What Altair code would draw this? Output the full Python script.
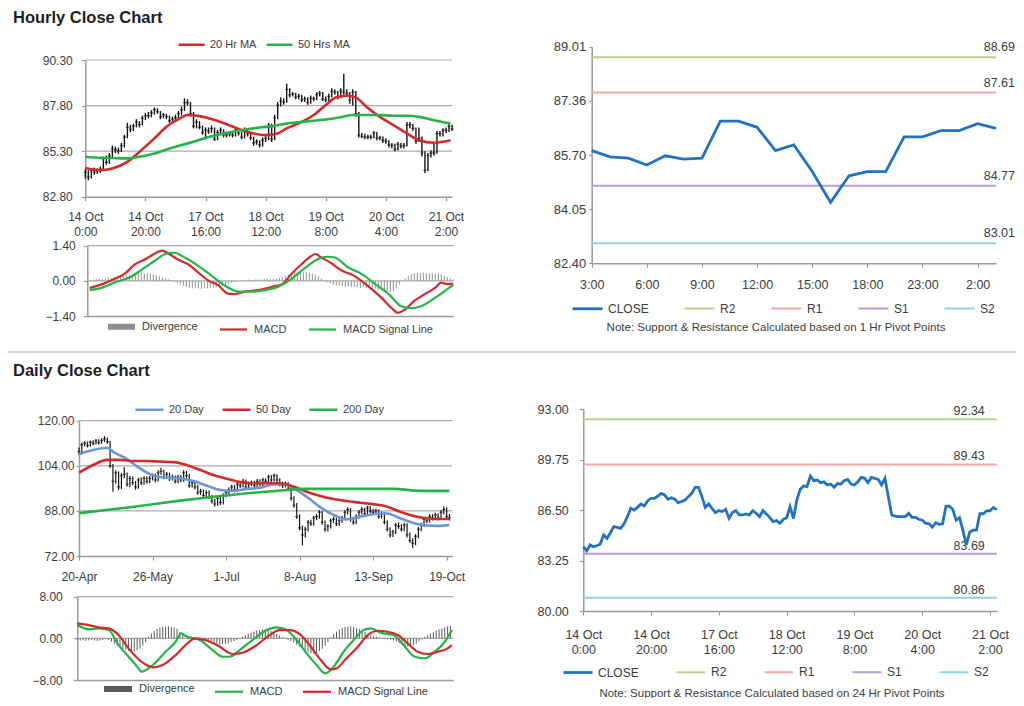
import altair as alt
import pandas as pd

W, H = 1008, 690
FONT = "Liberation Sans"
TXT = "#3c3c3c"
AXC = "#9a9a9a"
GRIDC = "#ababab"
RED = "#d42a2a"
GREEN = "#27b34a"
BLUE_MA = "#6a98d4"
CLOSE_C = "#2172c0"
R2_C = "#b8d08e"
R1_C = "#f0a8a8"
S1_C = "#b39fd6"
S2_C = "#8fd2e6"
BAR_C = "#141414"

# ---------------- hourly data (bar index 0..122) ----------------
hour_close = [84.14, 83.88, 84.25, 84.14, 84.20, 84.31, 84.89, 84.68, 85.04, 85.43,
              85.38, 85.32, 85.60, 86.07, 86.61, 86.50, 86.67, 86.89, 86.76, 87.10,
              87.25, 87.25, 87.40, 87.57, 87.47, 87.19, 87.29, 87.19, 86.97, 87.05,
              87.14, 87.36, 87.57, 87.96, 87.96, 87.36, 86.67, 86.89, 86.61, 86.33,
              86.46, 86.40, 86.54, 85.96, 86.33, 86.46, 86.18, 86.18, 86.25, 86.18,
              86.46, 86.29, 86.07, 86.46, 86.25, 86.03, 85.75, 85.82, 85.64, 85.90,
              86.00, 86.72, 85.96, 87.14, 87.83, 88.05, 88.00, 88.69, 88.39, 88.43,
              88.26, 88.31, 88.11, 88.17, 87.96, 88.20, 88.17, 88.39, 88.47, 88.17,
              88.11, 88.31, 88.60, 88.54, 88.26, 88.60, 88.54, 88.47, 88.11, 88.54,
              87.36, 86.18, 86.11, 86.07, 86.07, 86.07, 86.29, 86.03, 86.03, 85.90,
              85.84, 85.65, 85.61, 85.40, 85.68, 85.58, 85.61, 86.74, 86.74, 86.55,
              85.84, 86.01, 85.20, 84.26, 85.07, 85.20, 85.20, 86.26, 86.26, 86.45,
              86.45, 86.66, 86.52]
hour_high = [84.30, 84.25, 84.35, 84.40, 84.35, 84.45, 85.00, 85.05, 85.20, 85.60,
             85.55, 85.50, 85.75, 86.20, 86.85, 86.75, 86.80, 87.05, 86.95, 87.25,
             87.40, 87.45, 87.55, 87.70, 87.65, 87.50, 87.40, 87.35, 87.25, 87.20,
             87.30, 87.50, 87.75, 88.20, 88.15, 88.00, 87.45, 87.05, 86.95, 86.70,
             86.60, 86.60, 86.70, 86.60, 86.45, 86.60, 86.50, 86.35, 86.40, 86.35,
             86.60, 86.55, 86.35, 86.60, 86.50, 86.30, 86.10, 85.95, 85.90, 86.05,
             86.15, 86.85, 86.80, 87.30, 88.00, 88.25, 88.20, 89.00, 88.75, 88.55,
             88.50, 88.45, 88.40, 88.30, 88.25, 88.35, 88.30, 88.55, 88.60, 88.55,
             88.30, 88.45, 88.75, 88.70, 88.60, 88.75, 89.55, 88.70, 88.55, 88.70,
             88.60, 87.45, 86.30, 86.25, 86.20, 86.20, 86.40, 86.35, 86.15, 86.10,
             86.00, 85.90, 85.75, 85.70, 85.80, 85.75, 85.75, 86.90, 86.90, 86.80,
             86.60, 86.60, 86.10, 85.30, 85.20, 85.35, 85.80, 86.40, 86.40, 86.55,
             86.60, 86.80, 86.75]
hour_low = [83.80, 83.70, 83.80, 84.00, 84.05, 84.10, 84.25, 84.55, 84.60, 84.95,
            85.20, 85.15, 85.25, 85.50, 86.00, 86.35, 86.40, 86.60, 86.60, 86.70,
            87.00, 87.10, 87.15, 87.30, 87.35, 87.05, 87.10, 87.05, 86.85, 86.90,
            86.95, 87.05, 87.25, 87.50, 87.80, 87.20, 86.55, 86.55, 86.50, 86.20,
            85.95, 86.25, 86.30, 85.85, 85.90, 86.20, 86.05, 86.05, 86.10, 86.05,
            86.10, 86.15, 85.95, 86.00, 86.10, 85.90, 85.60, 85.65, 85.50, 85.55,
            85.80, 85.90, 85.80, 85.90, 87.05, 87.75, 87.85, 87.95, 88.25, 88.30,
            88.15, 88.15, 88.00, 88.00, 87.85, 87.90, 88.05, 88.10, 88.30, 88.05,
            88.00, 88.05, 88.25, 88.40, 88.15, 88.20, 88.40, 88.30, 87.90, 87.80,
            87.20, 86.05, 86.00, 85.95, 85.95, 85.95, 86.00, 85.90, 85.90, 85.75,
            85.70, 85.50, 85.45, 85.30, 85.35, 85.45, 85.45, 85.55, 86.55, 86.40,
            85.70, 85.80, 85.00, 84.10, 84.20, 84.95, 85.05, 85.15, 86.10, 86.10,
            86.30, 86.35, 86.40]
hour_tick_pos = [0, 20, 40, 60, 80, 100, 120]
hour_tick_day = ["14 Oct", "14 Oct", "17 Oct", "18 Oct", "19 Oct", "20 Oct", "21 Oct"]
hour_tick_time = ["0:00", "20:00", "16:00", "12:00", "8:00", "4:00", "2:00"]

ma20_x = [0, 5, 9, 14, 18, 23, 27, 31.5, 34, 38, 42.5, 47, 51.5, 56, 60, 64, 67, 71.5, 76, 80,
          83.5, 87, 90, 93.5, 98, 102.5, 107, 111, 116, 119, 121.5]
ma20_v = [84.38, 84.26, 84.35, 84.71, 85.26, 86.00, 86.64, 87.10, 87.28, 87.22, 87.04, 86.78,
          86.49, 86.27, 86.18, 86.27, 86.55, 86.86, 87.28, 87.83, 88.25, 88.34, 88.25, 87.73,
          87.18, 86.73, 86.27, 85.90, 85.76, 85.81, 85.90]
ma50_x = [0, 5, 9, 14, 18, 23, 27, 31.5, 36, 40.5, 45, 49, 53.5, 58, 62.5, 67, 71.5, 76, 80,
          84.5, 89, 93.5, 98, 102.5, 107, 111, 116, 120, 121.5]
ma50_v = [84.99, 84.93, 84.92, 84.90, 84.99, 85.17, 85.39, 85.61, 85.81, 86.05, 86.23, 86.36,
          86.49, 86.60, 86.67, 86.82, 86.89, 86.97, 87.04, 87.15, 87.28, 87.28, 87.28, 87.24,
          87.24, 87.18, 87.00, 86.86, 86.82]

hmacd_x = [0.8, 5, 9, 12.5, 16, 19.5, 22.5, 25, 27, 30.5, 33.5, 37, 40.5, 43.5, 47, 49, 52.5,
           57, 61.5, 65, 68, 71.5, 74, 76, 78, 81.5, 84.5, 89, 93.5, 98, 101.5, 103.5, 106,
           109, 112.5, 116, 118, 120, 122]
hmacd_v = [-0.29, -0.13, 0.07, 0.29, 0.67, 0.87, 1.09, 1.20, 1.09, 0.83, 0.67, 0.33, 0.0,
           -0.16, -0.51, -0.53, -0.43, -0.37, -0.24, -0.13, 0.27, 0.67, 0.93, 1.07, 0.93,
           0.69, 0.43, 0.20, -0.20, -0.67, -1.09, -1.27, -1.13, -0.80, -0.53, -0.27, -0.07,
           -0.13, -0.11]
hsig_x = [0.8, 5, 9, 14, 18, 22.5, 26, 29, 32.5, 37, 41.5, 46, 50.5, 55, 59, 63.5, 68, 72.5,
          77, 80, 82.5, 87, 91.5, 96, 100.5, 104.5, 107.5, 111.5, 116, 120, 122]
hsig_v = [-0.37, -0.27, -0.07, 0.13, 0.43, 0.80, 1.07, 1.12, 0.93, 0.60, 0.20, -0.20, -0.43,
          -0.43, -0.37, -0.24, 0.07, 0.51, 0.87, 0.96, 0.93, 0.53, 0.27, -0.13, -0.53, -1.0,
          -1.09, -1.0, -0.67, -0.33, -0.16]
hour_div = [0.02, 0.03, 0.05, 0.06, 0.07, 0.08, 0.10, 0.12, 0.10, 0.14,
            0.16, 0.18, 0.20, 0.22, 0.25, 0.28, 0.24, 0.30, 0.33, 0.30,
            0.32, 0.28, 0.25, 0.22, 0.18, 0.14, 0.10, 0.06, 0.02, -0.05,
            -0.10, -0.15, -0.20, -0.25, -0.28, -0.30, -0.28, -0.30, -0.32, -0.30,
            -0.30, -0.28, -0.26, -0.25, -0.22, -0.20, -0.16, -0.12, -0.08, -0.05,
            -0.02, 0.00, 0.02, 0.03, 0.04, 0.03, 0.05, 0.06, 0.05, 0.07,
            0.08, 0.06, 0.08, 0.10, 0.12, 0.16, 0.20, 0.25, 0.28, 0.30,
            0.32, 0.35, 0.34, 0.36, 0.33, 0.30, 0.25, 0.18, 0.10, 0.02,
            -0.05, -0.10, -0.15, -0.18, -0.20, -0.22, -0.25, -0.22, -0.25, -0.24,
            -0.25, -0.28, -0.25, -0.28, -0.30, -0.32, -0.30, -0.35, -0.38, -0.40,
            -0.42, -0.45, -0.40, -0.30, -0.15, -0.02, 0.10, 0.20, 0.26, 0.30,
            0.32, 0.30, 0.32, 0.30, 0.30, 0.30, 0.28, 0.30, 0.26, 0.20,
            0.15, 0.10, 0.06]

# 24 hour pivot chart (last 23 hourly closes)
h24_start = 100
h24_tick_pos = [0, 3, 6, 9, 12, 15, 18, 21]
h24_tick_lab = ["3:00", "6:00", "9:00", "12:00", "15:00", "18:00", "23:00", "2:00"]
pivot_names = ["R2", "R1", "S1", "S2"]
pivot_1h = [88.69, 87.61, 84.77, 83.01]
pivot_24h = [92.34, 89.43, 83.69, 80.86]

# ---------------- daily data (day index 0..131) ----------------
daily_close = [109.0, 111.5, 112.0, 111.2, 112.4, 112.0, 112.8, 112.2, 113.0, 113.5,
               112.5, 104.0, 98.5, 101.5, 96.5, 100.5, 101.0, 97.5, 99.5, 98.0,
               96.5, 99.0, 98.0, 99.5, 98.5, 99.5, 100.5, 99.0, 101.5, 102.0,
               100.0, 101.0, 99.5, 100.0, 98.5, 100.0, 99.0, 101.5, 100.5, 97.0,
               98.0, 96.5, 94.5, 95.0, 93.5, 94.5, 93.0, 91.5, 90.5, 92.5,
               91.0, 93.5, 94.5, 95.5, 96.5, 95.5, 97.5, 97.0, 98.5, 96.5,
               97.5, 98.0, 97.0, 98.5, 97.5, 99.0, 98.5, 100.0, 99.0, 100.5,
               99.0, 97.5, 97.0, 97.5, 96.0, 92.5, 90.0, 86.0, 82.0, 79.5,
               81.5, 84.0, 83.5, 85.5, 86.0, 87.5, 84.0, 81.5, 82.5, 84.5,
               85.0, 83.5, 84.5, 85.5, 87.5, 88.5, 85.0, 84.0, 86.0, 87.5,
               88.5, 87.0, 89.0, 88.0, 87.5, 88.0, 86.0, 87.0, 84.0, 81.5,
               79.5, 80.5, 83.0, 82.5, 81.5, 83.0, 79.5, 77.5, 76.5, 79.0,
               81.5, 83.0, 85.0, 84.5, 86.0, 85.5, 86.5, 85.5, 87.5, 88.5,
               86.0, 85.5]
daily_high = [110.5, 112.3, 112.8, 112.6, 113.0, 113.1, 113.5, 113.4, 113.8, 114.5,
              114.0, 112.8, 104.6, 102.4, 102.0, 101.4, 103.5, 101.6, 100.4, 100.2,
              98.6, 99.8, 99.9, 100.3, 100.2, 100.4, 101.3, 101.2, 102.4, 103.3,
              102.6, 101.8, 101.6, 100.9, 100.6, 100.8, 100.7, 102.4, 102.2, 101.2,
              98.9, 98.6, 97.3, 95.9, 95.6, 95.3, 95.2, 93.6, 92.2, 93.4,
              93.2, 94.3, 95.3, 96.4, 97.3, 97.2, 98.4, 98.3, 99.4, 99.1,
              98.3, 98.8, 98.7, 99.3, 99.2, 99.8, 99.6, 100.8, 100.7, 101.3,
              101.0, 99.6, 98.3, 98.4, 98.2, 96.6, 93.2, 90.8, 86.8, 82.8,
              82.4, 84.8, 84.9, 86.3, 86.9, 88.3, 88.0, 84.6, 83.3, 85.3,
              85.9, 85.6, 85.4, 86.3, 88.3, 89.3, 89.0, 85.8, 86.8, 88.3,
              89.4, 89.1, 89.8, 89.7, 88.8, 88.8, 88.6, 87.8, 87.6, 84.7,
              82.2, 81.3, 83.8, 83.9, 83.3, 83.8, 83.6, 80.3, 78.3, 79.8,
              82.3, 83.8, 85.8, 85.7, 86.8, 86.8, 87.3, 87.2, 88.3, 89.6,
              89.2, 86.9]
daily_low = [107.8, 108.6, 110.9, 110.5, 110.8, 111.3, 111.6, 111.5, 111.8, 112.4,
             111.8, 103.2, 94.8, 97.6, 95.4, 95.8, 99.6, 96.6, 96.5, 97.1,
             95.5, 95.9, 97.2, 97.3, 97.6, 97.8, 98.8, 98.2, 98.4, 100.8,
             99.2, 99.3, 98.6, 98.8, 97.7, 97.8, 98.2, 98.3, 99.6, 96.2,
             96.3, 95.6, 93.7, 93.6, 92.6, 92.8, 92.2, 90.6, 89.6, 89.8,
             90.1, 90.3, 92.8, 93.8, 94.8, 94.6, 94.8, 96.1, 96.3, 95.6,
             95.8, 96.8, 96.2, 96.3, 96.7, 96.8, 97.7, 97.8, 98.2, 98.3,
             98.2, 96.7, 96.1, 96.3, 95.1, 91.6, 89.1, 85.1, 81.1, 75.8,
             78.6, 80.7, 82.6, 82.7, 84.7, 85.2, 83.1, 80.6, 80.7, 81.8,
             83.7, 82.6, 82.7, 83.8, 84.8, 86.7, 84.1, 83.1, 83.3, 85.2,
             86.8, 86.2, 86.3, 87.2, 86.6, 86.8, 85.2, 85.3, 83.2, 80.6,
             78.6, 78.7, 79.8, 81.6, 80.7, 80.8, 78.6, 76.6, 74.8, 75.8,
             78.3, 80.8, 82.3, 83.6, 83.8, 84.6, 84.8, 84.6, 84.9, 86.7,
             85.1, 84.6]
daily_tick_pos = [0, 26, 52, 78, 104, 130]
daily_tick_lab = ["20-Apr", "26-May", "1-Jul", "8-Aug", "13-Sep", "19-Oct"]

d20_x = [0, 5, 10, 12, 17, 21.5, 26.5, 31, 35.5, 40.5, 45, 50, 54.5, 59.5, 64, 68.5, 72.5,
         76, 80.5, 85, 90, 94.5, 99.5, 104, 109, 113.5, 118, 123, 127.5, 131]
d20_v = [108.1, 109.6, 110.4, 109.0, 106.4, 103.1, 100.5, 99.8, 99.6, 98.6, 97.0, 95.4, 95.1,
         95.8, 96.2, 97.4, 97.5, 96.0, 93.0, 89.5, 86.6, 85.0, 86.0, 86.8, 87.1, 85.4, 83.8,
         82.8, 82.7, 83.0]
d50_x = [0, 5, 10, 14.5, 19.5, 24, 28.5, 33.5, 38, 43, 47.5, 52.5, 57, 61.5, 66.5, 71, 76,
         80.5, 85, 90, 94.5, 99.5, 104, 109, 113.5, 118, 123, 127.5, 131]
d50_v = [101.6, 104.3, 106.1, 106.1, 105.7, 105.7, 105.5, 105.3, 104.3, 102.5, 100.7, 99.3,
         98.2, 97.8, 97.8, 97.8, 96.6, 94.8, 93.4, 92.2, 91.5, 90.9, 90.4, 89.5, 87.7, 86.3,
         85.4, 85.1, 85.1]
d200_x = [0, 19.5, 38, 57, 73.5, 78.5, 90, 102, 111, 121, 131]
d200_v = [87.2, 89.5, 91.9, 94.0, 95.4, 95.8, 95.8, 95.8, 95.8, 95.1, 95.1]

dmacd_x = [0, 4, 7.5, 11, 14.5, 18, 21.5, 22.5, 26.5, 31, 34.5, 36.5, 38, 43, 47.5, 51, 53.5,
           57, 61.5, 66.5, 70, 73.5, 77, 80.5, 84, 87, 90, 93.5, 97, 100.5, 103, 106.5, 111,
           114.5, 118.5, 122, 125.5, 129, 131.5]
dmacd_v = [2.55, 1.73, 1.92, 1.59, -1.29, -3.53, -5.76, -6.41, -5.12, -2.57, -0.65, 0.96,
           0.44, -0.33, -2.25, -3.53, -3.53, -2.25, -0.33, 1.59, 2.11, 1.59, -0.33, -2.88,
           -5.12, -6.72, -5.45, -2.57, -0.33, 1.59, 1.92, 1.07, 0.63, -1.29, -3.53, -3.84,
           -2.57, -0.65, 1.59]
dsig_x = [0, 4, 7.5, 11, 14.5, 18, 22.5, 26.5, 30, 34.5, 38, 41.5, 45, 50, 54.5, 58, 63,
          67.5, 71, 74.5, 78.5, 82, 85.5, 89, 91, 94.5, 98.5, 102, 105.5, 109, 112.5, 116,
          119.5, 123, 126.5, 130, 131.5]
dsig_v = [2.88, 2.55, 2.11, 1.92, 0.63, -1.92, -4.49, -5.57, -5.12, -3.21, -1.29, 0.0,
          -0.33, -1.61, -3.01, -2.76, -1.29, 0.63, 1.59, 1.59, 0.63, -1.61, -4.17, -5.95,
          -5.76, -3.84, -1.61, 0.63, 1.46, 1.27, 0.63, -0.96, -2.57, -3.01, -2.57, -1.92,
          -1.29]
daily_div = [-0.3, -0.4, -0.4, -0.5, -0.4, -0.3, -0.4, -0.5, -0.4, -0.3, -0.2, -0.3,
             -0.6, -1.0, -1.4, -1.7, -2.0, -2.2, -2.4, -2.6, -2.5, -2.3, -2.0, -1.4, -0.8,
             0.3, 0.9, 1.4, 1.8, 2.1, 2.2, 2.2, 2.3, 2.2, 2.1, 1.8, 1.2, 0.6,
             -0.1, -0.2, -0.3, -0.2, -0.3, -0.4, -0.5, -0.6,
             -0.8, -1.0, -1.1, -1.2, -1.2, -1.1, -1.0, -0.9, -0.7, -0.5, -0.3, -0.1,
             0.3, 0.6, 0.9, 1.1, 1.3, 1.5, 1.6, 1.7, 1.7, 1.6, 1.4, 1.1, 0.8, 0.5, 0.2,
             -0.1, -0.3, -0.5, -0.8, -1.2, -1.6, -2.0,
             -2.4, -2.7, -2.9, -3.0, -2.8, -2.5, -2.0, -1.4, -0.7,
             0.2, 0.8, 1.3, 1.7, 2.0, 2.2, 2.3, 2.3, 2.2, 2.0, 1.8, 1.5, 1.2, 0.9, 0.6,
             0.4, 0.3, 0.2, 0.1, -0.1, -0.2, -0.3, -0.4,
             -0.6, -0.9, -1.2, -1.4, -1.5, -1.5, -1.3, -1.0, -0.6,
             -0.2, 0.3, 0.6, 0.9, 1.2, 1.5, 1.7, 1.9, 2.1, 2.3, 2.4]


# ---------------- helpers ----------------
def label_expr(pos, labels):
    expr = "''"
    for p, lab in reversed(list(zip(pos, labels))):
        if isinstance(lab, (list, tuple)):
            lit = "[" + ", ".join("'" + s + "'" for s in lab) + "]"
        else:
            lit = "'" + lab + "'"
        expr = "datum.value == %s ? %s : (%s)" % (p, lit, expr)
    return expr


def x_axis(bottom, pos=None, labels=None, tick=4, pad=9, size=12):
    common = dict(orient="bottom", offset=bottom - H, title=None, grid=False,
                  domainColor=AXC, domainWidth=1.5)
    if pos is None:
        return alt.Axis(ticks=False, labels=False, **common)
    return alt.Axis(values=pos, labelExpr=label_expr(pos, labels), tickColor=AXC,
                    tickSize=tick, tickWidth=1.2, labelPadding=pad, labelFont=FONT,
                    labelFontSize=size, labelColor=TXT, labelFlush=False,
                    labelOverlap=False, labelLineHeight=15, **common)


def y_axis(left, pos, tick, pad, size=12):
    return alt.Axis(orient="left", offset=-left, values=pos, format=".2f", title=None,
                    grid=False, domainColor=AXC, domainWidth=1.5, tickColor=AXC,
                    tickSize=tick, tickWidth=1.2, labelPadding=pad, labelFont=FONT,
                    labelFontSize=size, labelColor=TXT, labelOverlap=False,
                    labelFlush=False)


def legend(x, y, n, sym, colpad, size=11, sw=2.5):
    return alt.Legend(title=None, orient="none", legendX=x, legendY=y,
                      direction="horizontal", columns=n, symbolType="stroke",
                      symbolSize=sym * sym, symbolStrokeWidth=sw, labelFont=FONT,
                      labelFontSize=size, labelColor=TXT, columnPadding=colpad,
                      labelOffset=4, padding=0)


def lin(domain, rng):
    return alt.Scale(domain=domain, range=rng, nice=False, zero=False)


def long_df(parts):
    rows = []
    for name, xs, vs in parts:
        for a, b in zip(xs, vs):
            rows.append({"s": name, "x": a, "v": b})
    return pd.DataFrame(rows)


class Panel:
    def __init__(self, xs, ys, ax, ay):
        self.xs, self.ys, self.ax, self.ay = xs, ys, ax, ay

    def X(self, f):
        return alt.X(f, scale=self.xs, axis=self.ax)

    def Y(self, f):
        return alt.Y(f, scale=self.ys, axis=self.ay)

    def XD(self, v):
        return alt.XDatum(v, type="quantitative", scale=self.xs, axis=self.ax)

    def grid(self, values, x0, x1):
        return alt.Chart(pd.DataFrame({"v": values})).mark_rule(
            color=GRIDC, strokeWidth=1.2).encode(
            x=self.XD(x0), x2=alt.X2Datum(x1), y=self.Y("v:Q"))


def bars_layers(P, hi, lo, cl, sw):
    dfb = pd.DataFrame([{"i": i, "lo": a, "hi": b} for i, (a, b) in enumerate(zip(lo, hi))])
    dfc = pd.DataFrame({"i": list(range(len(cl))), "c": cl})
    r = alt.Chart(dfb).mark_rule(color=BAR_C, strokeWidth=sw).encode(
        x=P.X("i:Q"), y=P.Y("lo:Q"), y2="hi:Q")
    t = alt.Chart(dfc).mark_tick(color=BAR_C, size=3, thickness=1.2, orient="horizontal").encode(
        x=P.X("i:Q"), y=P.Y("c:Q"))
    return [r, t]


def macd_panel(P, div, parts, x1, gridv, colors, leg):
    dom = ["Divergence", "MACD", "MACD Signal Line"]
    cs = alt.Scale(domain=dom, range=colors)
    sws = alt.Scale(type="ordinal", domain=dom, range=[6, 2.2, 2.2])
    dfd = pd.DataFrame([{"i": i, "d": d, "s": "Divergence"} for i, d in enumerate(div)])
    rules = alt.Chart(dfd).mark_rule(strokeWidth=1).encode(
        x=P.X("i:Q"), y=P.Y("d:Q"), y2=alt.Y2Datum(0),
        color=alt.Color("s:N", scale=cs, legend=leg))
    lines = alt.Chart(long_df(parts)).mark_line(interpolate="monotone").encode(
        x=P.X("x:Q"), y=P.Y("v:Q"),
        color=alt.Color("s:N", scale=cs, legend=leg),
        strokeWidth=alt.StrokeWidth("s:N", scale=sws, legend=leg))
    return alt.layer(P.grid(gridv, 0, x1), rules, lines)


def pivot_panel(P, closes, pivots, xmax, leg, ldx, ldy):
    dom = ["CLOSE"] + pivot_names
    cs = alt.Scale(domain=dom, range=[CLOSE_C, R2_C, R1_C, S1_C, S2_C])
    sws = alt.Scale(type="ordinal", domain=dom, range=[2.8, 2, 2, 2, 2])
    dfp = pd.DataFrame({"s": pivot_names, "v": pivots, "lab": ["%.2f" % v for v in pivots]})
    dfc = pd.DataFrame({"i": list(range(len(closes))), "v": closes, "s": ["CLOSE"] * len(closes)})
    prules = alt.Chart(dfp).mark_rule().encode(
        x=P.XD(0), x2=alt.X2Datum(xmax), y=P.Y("v:Q"),
        color=alt.Color("s:N", scale=cs, legend=leg),
        strokeWidth=alt.StrokeWidth("s:N", scale=sws, legend=leg))
    ptext = alt.Chart(dfp).mark_text(align="right", baseline="alphabetic", dx=ldx, dy=ldy,
                                     font=FONT, fontSize=12.5, color=TXT).encode(
        x=P.XD(xmax), y=P.Y("v:Q"), text="lab:N")
    cline = alt.Chart(dfc).mark_line().encode(
        x=P.X("i:Q"), y=P.Y("v:Q"),
        color=alt.Color("s:N", scale=cs, legend=leg),
        strokeWidth=alt.StrokeWidth("s:N", scale=sws, legend=leg))
    return alt.layer(prules, ptext, cline)


def text_layer(txt, x, y, size, weight="normal", align="left", color=TXT):
    return alt.Chart(pd.DataFrame({"t": [txt]})).mark_text(
        align=align, baseline="alphabetic", font=FONT, fontSize=size, fontWeight=weight,
        color=color).encode(x=alt.value(x), y=alt.value(y), text="t:N")


# ---------------- panel 1: hourly bars + MAs ----------------
hour_labels = [[d, t] for d, t in zip(hour_tick_day, hour_tick_time)]
P1 = Panel(lin([0, 122], [77.3, 444.0]), lin([82.8, 90.3], [188.7, 52.0]),
           x_axis(188.7, hour_tick_pos, hour_labels, 4, 11, 12),
           y_axis(77.3, [82.8, 85.3, 87.8, 90.3], 4, 9, 12))
p1 = alt.layer(
    P1.grid([85.3, 87.8, 90.3], 0, 122),
    *bars_layers(P1, hour_high, hour_low, hour_close, 1.4),
    alt.Chart(long_df([("20 Hr MA", ma20_x, ma20_v), ("50 Hrs MA", ma50_x, ma50_v)]))
    .mark_line(strokeWidth=2.6, interpolate="monotone").encode(
        x=P1.X("x:Q"), y=P1.Y("v:Q"),
        color=alt.Color("s:N", scale=alt.Scale(domain=["20 Hr MA", "50 Hrs MA"], range=[RED, GREEN]),
                        legend=legend(169, 22, 2, 26, 4, 11))),
)

# ---------------- panel 2: hourly MACD ----------------
P2 = Panel(lin([0, 122], [79.3, 445.3]), lin([-1.4, 1.4], [308.0, 237.7]),
           x_axis(308.0), y_axis(79.3, [-1.4, 0, 1.4], 4, 8, 12))
p2 = macd_panel(P2, hour_div, [("MACD", hmacd_x, hmacd_v), ("MACD Signal Line", hsig_x, hsig_v)],
                122, [0, 1.4], ["#8f8f8f", RED, GREEN], legend(97, 302, 3, 27, 17, 11))

# ---------------- panel 3: 1 hr pivots ----------------
P3 = Panel(lin([0, 22], [583.7, 988.0]), lin([82.40, 89.01], [255.3, 38.7]),
           x_axis(255.3, h24_tick_pos, h24_tick_lab, 4, 11, 12.5),
           y_axis(583.7, [82.40, 84.05, 85.70, 87.36, 89.01], 3, 3, 13))
p3 = pivot_panel(P3, hour_close[h24_start:], pivot_1h, 22, legend(563, 284, 5, 30, 31, 12), 19, -6)

# ---------------- panel 4: daily bars + MAs ----------------
P4 = Panel(lin([0, 132], [71.0, 444.3]), lin([72, 120], [548.0, 412.7]),
           x_axis(548.0, daily_tick_pos, daily_tick_lab, 4, 11, 12),
           y_axis(71.0, [72, 88, 104, 120], 3, 2, 12))
p4 = alt.layer(
    P4.grid([88, 104, 120], 0, 132),
    *bars_layers(P4, daily_high, daily_low, daily_close, 1.2),
    alt.Chart(long_df([("20 Day", d20_x, d20_v), ("50 Day", d50_x, d50_v), ("200 Day", d200_x, d200_v)]))
    .mark_line(strokeWidth=2.6, interpolate="monotone").encode(
        x=P4.X("x:Q"), y=P4.Y("v:Q"),
        color=alt.Color("s:N", scale=alt.Scale(domain=["20 Day", "50 Day", "200 Day"],
                                               range=[BLUE_MA, RED, GREEN]),
                        legend=legend(126, 386, 3, 28, 13, 11))),
)

# ---------------- panel 5: daily MACD ----------------
P5 = Panel(lin([0, 132], [69.3, 445.3]), lin([-8, 8], [672.0, 588.7]),
           x_axis(672.0), y_axis(69.3, [-8, 0, 8], 4, 11, 12))
p5 = macd_panel(P5, daily_div, [("MACD", dmacd_x, dmacd_v), ("MACD Signal Line", dsig_x, dsig_v)],
                132, [0, 8], ["#5a5a5a", GREEN, RED], legend(93, 664, 3, 28, 15, 11))

# ---------------- panel 6: 24 hr pivots ----------------
P6 = Panel(lin([0, 122], [575.3, 988.8]), lin([80, 93], [603.0, 401.0]),
           x_axis(603.0, hour_tick_pos, hour_labels, 4, 13, 12.5),
           y_axis(575.3, [80, 83.25, 86.5, 89.75, 93], 4, 11, 12.5))
p6 = pivot_panel(P6, hour_close, pivot_24h, 122, legend(554, 648.5, 5, 29, 33, 12), -12, -4)

# ---------------- text & separators ----------------
sep = alt.Chart(pd.DataFrame({"a": [0]})).mark_rule(color="#c8c8c8", strokeWidth=1.5).encode(
    x=alt.value(0), x2=alt.value(W), y=alt.value(344))
t1 = text_layer("Hourly Close Chart", 5, 14.7, 16.5, "bold", color="#1e1e1e")
t2 = text_layer("Daily Close Chart", 5, 367.7, 16.5, "bold", color="#1e1e1e")
n1 = text_layer("Note: Support & Resistance Calculated based on 1 Hr Pivot Points", 768, 323, 11.5, align="center")
n2 = text_layer("Note:  Support & Resistance Calculated based on 24 Hr Pivot Points", 764, 689, 11.5, align="center")

chart = alt.layer(p1, p2, p3, p4, p5, p6, sep, t1, t2, n1, n2).resolve_scale(
    x="independent", y="independent", color="independent", strokeWidth="independent"
).properties(
    width=W, height=H, autosize=alt.AutoSizeParams(type="none"), padding=0
).configure_view(strokeWidth=0)

chart.save("out.html", embed_options={"renderer": "svg", "actions": False})
